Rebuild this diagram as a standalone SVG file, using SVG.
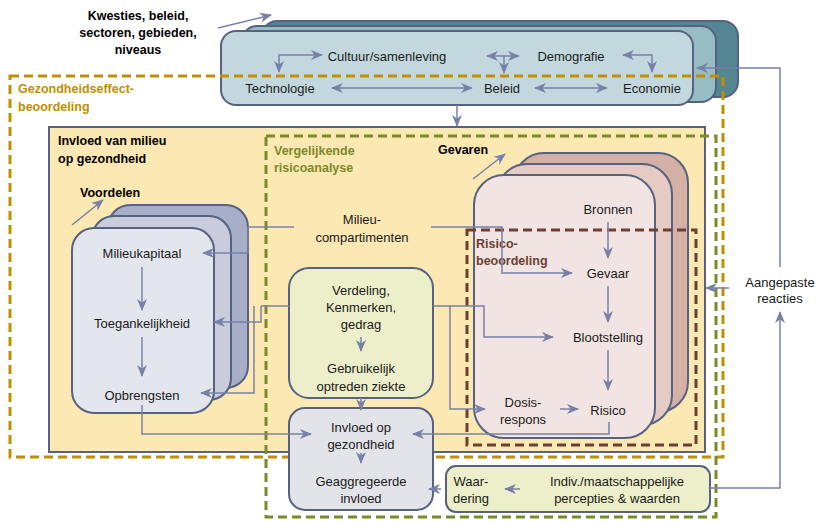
<svg xmlns="http://www.w3.org/2000/svg" width="817" height="522" viewBox="0 0 817 522">
<defs>
<marker id="ah" viewBox="0 0 12 10" refX="11" refY="5" markerWidth="12" markerHeight="10" markerUnits="userSpaceOnUse" orient="auto-start-reverse">
<path d="M0,0 L12,5 L0,10 L3.5,5 z" fill="#7880a8"/>
</marker>
<style>
.t{font-family:"Liberation Sans",Arial,sans-serif;font-size:13px;fill:#1a1a1a;text-anchor:middle}
.b{font-family:"Liberation Sans",Arial,sans-serif;font-size:12.5px;font-weight:bold}
.box{stroke:#56627f;stroke-width:2}
.c{fill:none;stroke:#7880a8;stroke-width:1.5}
.ca{fill:none;stroke:#7880a8;stroke-width:1.5;marker-end:url(#ah)}
.cd{fill:none;stroke:#7880a8;stroke-width:1.5;marker-end:url(#ah);marker-start:url(#ah)}
.dash{fill:none;stroke-width:3;stroke-dasharray:9,5}
</style>
</defs>
<rect width="817" height="522" fill="#ffffff"/>

<g id="context">
<rect x="262" y="21" width="476" height="76" rx="15" fill="#548592" class="box"/>
<rect x="242" y="26" width="474" height="76" rx="15" fill="#97bdc4" class="box"/>
<rect x="221" y="31" width="472" height="74" rx="15" fill="#c3d8de" class="box"/>
<text class="t" x="387" y="61">Cultuur/samenleving</text>
<text class="t" x="571" y="61">Demografie</text>
<text class="t" x="280" y="93">Technologie</text>
<text class="t" x="502" y="93">Beleid</text>
<text class="t" x="652" y="93">Economie</text>
</g>
<g id="kwesties">
<text class="b" text-anchor="middle" x="138" y="20">Kwesties, beleid,</text>
<text class="b" text-anchor="middle" x="138" y="37">sectoren, gebieden,</text>
<text class="b" text-anchor="middle" x="138" y="54">niveaus</text>
</g>

<g id="invloed-milieu">
<rect x="49" y="127" width="656" height="325" fill="#fce8b2" class="box"/>
<text class="b" x="58" y="145">Invloed van milieu</text>
<text class="b" x="58" y="163">op gezondheid</text>
</g>

<g id="voordelen">
<rect x="108" y="205" width="140" height="183" rx="22" fill="#a8aec8" class="box"/>
<rect x="92" y="216" width="139" height="184" rx="22" fill="#c9ccdc" class="box"/>
<rect x="72" y="228" width="142" height="185" rx="22" fill="#e4e6ee" class="box"/>
<text class="b" x="80" y="197">Voordelen</text>
<text class="t" x="142" y="258">Milieukapitaal</text>
<text class="t" x="142" y="328">Toegankelijkheid</text>
<text class="t" x="142" y="400">Opbrengsten</text>
</g>

<g id="gevaren">
<rect x="514" y="153" width="174" height="259" rx="30" fill="#d4b0a6" class="box"/>
<rect x="497" y="164" width="175" height="261" rx="30" fill="#e5cbc4" class="box"/>
<rect x="474" y="175" width="181" height="263" rx="30" fill="#f2e4e2" class="box"/>
<text class="b" x="438" y="154">Gevaren</text>
<text class="t" x="608" y="214">Bronnen</text>
<text class="t" x="608" y="278">Gevaar</text>
<text class="t" x="608" y="342">Blootstelling</text>
<text class="t" x="523" y="407">Dosis-</text>
<text class="t" x="523" y="424">respons</text>
<text class="t" x="608" y="415">Risico</text>
</g>

<g id="verdeling">
<rect x="289" y="268" width="144" height="130" rx="20" fill="#ecefc9" class="box"/>
<text class="t" x="361" y="295">Verdeling,</text>
<text class="t" x="361" y="312">Kenmerken,</text>
<text class="t" x="361" y="329">gedrag</text>
<text class="t" x="361" y="373">Gebruikelijk</text>
<text class="t" x="361" y="391">optreden ziekte</text>
</g>

<g id="milieucompartimenten">
<text class="t" x="362" y="224">Milieu-</text>
<text class="t" x="362" y="242">compartimenten</text>
</g>

<g id="frames">
<rect x="10" y="76" width="713" height="381" class="dash" stroke="#bf8f00"/>
<text class="b" x="18" y="93" fill="#bf8f00">Gezondheidseffect-</text>
<text class="b" x="18" y="111" fill="#bf8f00">beoordeling</text>
<rect x="266" y="136" width="450" height="381" class="dash" stroke="#7a8a28"/>
<text class="b" x="274" y="155" fill="#7a8a28">Vergelijkende</text>
<text class="b" x="274" y="172" fill="#7a8a28">risicoanalyse</text>
<rect x="467" y="230" width="229" height="215" class="dash" stroke="#6b4030"/>
<text class="b" x="476" y="248" fill="#6b4030">Risico-</text>
<text class="b" x="476" y="265" fill="#6b4030">beoordeling</text>
</g>

<g id="invloed-gezondheid">
<rect x="289" y="408" width="144" height="102" rx="16" fill="#e3e4e9" class="box"/>
<text class="t" x="361" y="432">Invloed op</text>
<text class="t" x="361" y="449">gezondheid</text>
<text class="t" x="361" y="486">Geaggregeerde</text>
<text class="t" x="361" y="503">invloed</text>
</g>

<g id="waardering">
<rect x="446" y="466" width="264" height="46" rx="10" fill="#ecefc9" class="box"/>
<text class="t" x="471" y="486">Waar-</text>
<text class="t" x="471" y="503">dering</text>
<text class="t" x="617" y="486">Indiv./maatschappelijke</text>
<text class="t" x="617" y="503">percepties &amp; waarden</text>
</g>

<g id="aangepaste">
<text class="t" x="780" y="287">Aangepaste</text>
<text class="t" x="780" y="303">reacties</text>
</g>

<g id="connectors">
<path class="ca" d="M218,28 L271,15"/>
<path class="cd" d="M279,72 L279,55 L322,55"/>
<path class="cd" d="M332,88 L472,88"/>
<path class="cd" d="M487,56 L519,56"/>
<path class="ca" d="M504,56 L504,73"/>
<path class="cd" d="M623,55 L652,55 L652,72"/>
<path class="cd" d="M535,88 L607,88"/>
<path class="ca" d="M457,105 L457,126"/>
<path class="ca" d="M72,225 L103,200"/>
<path class="ca" d="M473,179 L505,154"/>
<path class="ca" d="M142,267 L142,310"/>
<path class="ca" d="M142,337 L142,376"/>
<path class="c" d="M248,227 L294,227"/>
<path class="ca" d="M248,227 L248,253 L203,253"/>
<path class="ca" d="M431,227 L502,227 L502,273 L572,273"/>
<path class="c" d="M289,306 L261,306"/>
<path class="ca" d="M261,306 L261,322 L214,322"/>
<path class="ca" d="M254,306 L254,393 L201,393"/>
<path class="ca" d="M142,405 L142,434 L311,434"/>
<path class="ca" d="M433,306 L484,306 L484,337 L553,337"/>
<path class="ca" d="M450,306 L450,409 L485,409"/>
<path class="ca" d="M560,409 L578,409"/>
<path class="ca" d="M608,222 L608,258"/>
<path class="ca" d="M608,286 L608,322"/>
<path class="ca" d="M608,350 L608,390"/>
<path class="ca" d="M609,422 L609,434 L413,434"/>
<path class="ca" d="M361,337 L361,351"/>
<path class="ca" d="M361,398 L361,410"/>
<path class="ca" d="M361,453 L361,463"/>
<path class="ca" d="M520,489 L505,489"/>
<path class="ca" d="M441,489 L429,489"/>
<path class="ca" d="M780,267 L780,68 L697,68"/>
<path class="ca" d="M729,288 L706,288"/>
<path class="ca" d="M710,488 L780,488 L780,312"/>
</g>
</svg>
